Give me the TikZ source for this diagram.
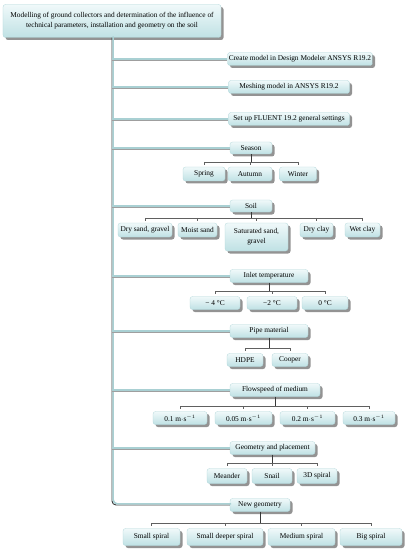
\documentclass[tikz,border=0pt]{standalone}
\usepackage{fontspec}
\setmainfont{Liberation Serif}
\usetikzlibrary{shadows}
\definecolor{boxtop}{HTML}{F0F9FA}
\definecolor{boxbot}{HTML}{BFE1E4}
\definecolor{boxedge}{HTML}{B0D6D9}
\definecolor{lineteal}{HTML}{A9D0D3}
\definecolor{linedark}{HTML}{383838}

\begin{document}
\begin{tikzpicture}[x=1bp,y=-1bp,
        mybox/.style={
            rectangle,
            rounded corners=2.5bp,
            draw=boxedge,
            line width=0.3pt,
            top color=boxtop,
            bottom color=boxbot,
            drop shadow={shadow xshift=2.5bp,shadow yshift=-2.5bp,fill=gray!85,opacity=1},
            inner sep=1bp,
            align=center,
            text=black,
            font=\fontsize{7.4}{10}\selectfont},
        wh/.style 2 args={minimum width=#1bp,minimum height=#2bp},
        mytrunk/.style={draw=linedark,line width=0.9pt,rounded corners=4bp,
            postaction={draw=lineteal,line width=1.6pt,transform canvas={xshift=1.2bp,yshift=1.2bp}}},
        mybranch/.style={draw=lineteal,line width=1.6pt,
            preaction={draw=gray!75,line width=1.2pt,transform canvas={yshift=-1bp}}},
        mystem/.style={draw=linedark,line width=0.9pt},
        mybar/.style={draw=linedark!80,line width=0.5pt}
        ]
        \useasboundingbox (0,0) rectangle (407,550);

        % main column
        \node[mybox,wh={218}{33}] (top) at (112,21)
            {Modelling of ground collectors and determination of the influence of\\
             technical parameters, installation and geometry on the soil};
        \node[mybox,wh={145}{13}] (create) at (300,59) {Create model in Design Modeler ANSYS R19.2};
        \node[mybox,wh={121}{13}] (mesh) at (289,87) {Meshing model in ANSYS R19.2};
        \node[mybox,wh={121}{13}] (setup) at (289,119) {Set up FLUENT 19.2 general settings};

        % season
        \node[mybox,wh={42}{12}] (season) at (251,148) {Season};
        \node[mybox,wh={42}{14}] (spring) at (204,174) {Spring};
        \node[mybox,wh={44}{14}] (autumn) at (250,174) {Autumn};
        \node[mybox,wh={37}{14}] (winter) at (298,174) {Winter};

        % soil
        \node[mybox,wh={42}{12}] (soil) at (251,206) {Soil};
        \node[mybox,wh={54}{14}] (drysand) at (145,230) {Dry sand, gravel};
        \node[mybox,wh={39}{14}] (moist) at (197.5,230) {Moist sand};
        \node[mybox,wh={63}{28}] (saturated) at (256.5,237) {Saturated sand,\\gravel};
        \node[mybox,wh={33}{14}] (dryclay) at (316.5,230) {Dry clay};
        \node[mybox,wh={35}{14}] (wetclay) at (362.5,230) {Wet clay};

        % inlet temperature
        \node[mybox,wh={78}{13}] (inlet) at (269,276) {Inlet temperature};
        \node[mybox,wh={50}{13}] (tfour) at (215,303) {− 4 °C};
        \node[mybox,wh={50}{13}] (ttwo) at (272,303) {−2 °C};
        \node[mybox,wh={46}{13}] (tzero) at (325,303) {0 °C};

        % pipe material
        \node[mybox,wh={78}{13}] (pipe) at (269,331) {Pipe material};
        \node[mybox,wh={36}{13}] (hdpe) at (245,360) {HDPE};
        \node[mybox,wh={36}{13}] (cooper) at (290,360) {Cooper};

        % flowspeed
        \node[mybox,wh={90}{13}] (flow) at (275,390) {Flowspeed of medium};
        \node[mybox,wh={54}{13}] (vone) at (180,418) {0.1 m$\cdot$s$^{-1}$};
        \node[mybox,wh={57}{13}] (vfive) at (243.5,418) {0.05 m$\cdot$s$^{-1}$};
        \node[mybox,wh={55}{13}] (vtwo) at (307.5,418) {0.2 m$\cdot$s$^{-1}$};
        \node[mybox,wh={52}{13}] (vthree) at (369,418) {0.3 m$\cdot$s$^{-1}$};

        % geometry and placement
        \node[mybox,wh={85}{13}] (geom) at (272.5,448) {Geometry and placement};
        \node[mybox,wh={40}{15}] (meander) at (227,476) {Meander};
        \node[mybox,wh={40}{15}] (snail) at (272,476) {Snail};
        \node[mybox,wh={40}{15}] (spiral) at (317,476) {3D spiral};

        % new geometry
        \node[mybox,wh={60}{13}] (newgeom) at (260,505) {New geometry};
        \node[mybox,wh={57}{17}] (small) at (151.5,537) {Small spiral};
        \node[mybox,wh={76}{17}] (deeper) at (225,537) {Small deeper spiral};
        \node[mybox,wh={67}{17}] (medium) at (301.5,537) {Medium spiral};
        \node[mybox,wh={62}{17}] (big) at (371,537) {Big spiral};

        \draw[mytrunk] (top.south) |- (newgeom.west);
        \foreach \b in {create,mesh,setup,season,soil,inlet,pipe,flow,geom}
            \draw[mybranch] (top.south |- \b.west) -- (\b.west);

        \foreach \p/\first/\last/\kids in {% parent/first child/last child/all children
            season/spring/winter/{spring,autumn,winter},
            soil/drysand/wetclay/{drysand,moist,saturated,dryclay,wetclay},
            inlet/tfour/tzero/{tfour,ttwo,tzero},
            pipe/hdpe/cooper/{hdpe,cooper},
            flow/vone/vthree/{vone,vfive,vtwo,vthree},
            geom/meander/spiral/{meander,snail,spiral},
            newgeom/small/big/{small,deeper,medium,big}}
        {
            \coordinate (bar) at ([yshift=5bp]\first.north);
            \draw[mystem] (\p.south) -- (\p.south |- bar);
            \draw[mybar] (bar -| \first) -- (bar -| \last);
            \foreach \k in \kids
                \draw[mybar] (bar -| \k) -- ++(0,3);
        }
\end{tikzpicture}
\end{document}
